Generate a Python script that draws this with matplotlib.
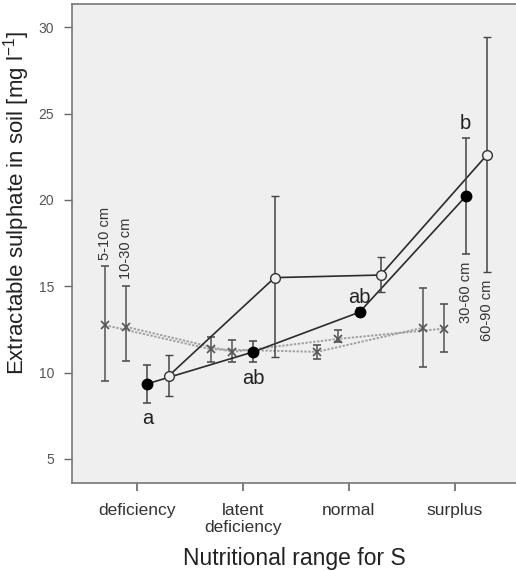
import matplotlib
matplotlib.use("Agg")
import matplotlib.pyplot as plt
import numpy as np

plt.rcParams['font.family'] = ['Liberation Sans', 'DejaVu Sans']
plt.rcParams['mathtext.default'] = 'regular'

categorias = ['deficiency', 'latent\ndeficiency', 'normal', 'surplus']

# valores medios y extremos de las barras de error por profundidad
prof_5_10 = [12.75, 11.35, 11.2, 12.6]
prof_5_10_sup = [16.15, 12.05, 11.6, 14.9]
prof_5_10_inf = [9.5, 10.6, 10.8, 10.35]

prof_10_30 = [12.65, 11.2, 11.95, 12.55]
prof_10_30_sup = [15.0, 11.9, 12.45, 14.0]
prof_10_30_inf = [10.65, 10.6, 11.75, 11.2]

prof_30_60 = [9.35, 11.2, 13.5, 20.2]
prof_30_60_sup = [10.45, 11.85, 13.75, 23.6]
prof_30_60_inf = [8.25, 10.6, 13.25, 16.85]

prof_60_90 = [9.8, 15.5, 15.65, 22.6]
prof_60_90_sup = [11.0, 20.2, 16.7, 29.45]
prof_60_90_inf = [8.65, 10.9, 14.65, 15.8]

letras = ['a', 'ab', 'ab', 'b']
pos_letras = [7.35, 9.65, 14.35, 24.45]


def main():
    fig = plt.figure(figsize=(5.16, 5.71), dpi=100)
    ax = fig.add_axes([0.1395, 0.154, 0.8605, 0.839])
    ax.set_facecolor('#efefef')

    x = np.arange(len(categorias))
    gris = '#a0a0a0'
    oscuro = '#2b2b2b'

    series = [
        (prof_5_10, prof_5_10_sup, prof_5_10_inf, -0.3),
        (prof_10_30, prof_10_30_sup, prof_10_30_inf, -0.1),
    ]
    for media, sup, inf, desp in series:
        media = np.array(media)
        err = [media - np.array(inf), np.array(sup) - media]
        ax.plot(x + desp, media, linestyle=(0, (1.2, 0.8)), color=gris, lw=1.4, zorder=2)
        ax.errorbar(x + desp, media, yerr=err, fmt='x', color='#555555', ecolor='#555555',
                    ms=6, mew=1.2, elinewidth=1.1, capsize=3, capthick=1.1, zorder=3)

    # 30-60 cm, circulos llenos
    media = np.array(prof_30_60)
    err = [media - np.array(prof_30_60_inf), np.array(prof_30_60_sup) - media]
    ax.plot(x + 0.1, media, '-', color=oscuro, lw=1.2, zorder=4)
    ax.errorbar(x + 0.1, media, yerr=err, fmt='o', color='black', ecolor='#444444',
                ms=7.5, elinewidth=1.1, capsize=3, capthick=1.1, zorder=5)

    # 60-90 cm, circulos vacios
    media = np.array(prof_60_90)
    err = [media - np.array(prof_60_90_inf), np.array(prof_60_90_sup) - media]
    ax.plot(x + 0.3, media, '-', color=oscuro, lw=1.2, zorder=4)
    ax.errorbar(x + 0.3, media, yerr=err, fmt='o', mfc='#efefef', mec='#333333', mew=1.0,
                ecolor='#444444', ms=7, elinewidth=1.1, capsize=3, capthick=1.1, zorder=5)

    # letras de significancia
    for i in range(len(letras)):
        ax.text(x[i] + 0.1, pos_letras[i], letras[i], ha='center', va='center',
                fontsize=14.5, color='#222222')

    # etiquetas de profundidad
    ax.text(-0.3, 16.55, '5-10 cm', rotation=90, ha='center', va='bottom', fontsize=10.5, color='#333333')
    ax.text(-0.1, 15.4, '10-30 cm', rotation=90, ha='center', va='bottom', fontsize=10.5, color='#333333')
    ax.text(3.1, 16.4, '30-60 cm', rotation=90, ha='center', va='top', fontsize=10.5, color='#333333')
    ax.text(3.3, 15.4, '60-90 cm', rotation=90, ha='center', va='top', fontsize=10.5, color='#333333')

    ax.set_xlim(-0.61, 3.575)
    ax.set_ylim(3.6, 31.35)
    ax.set_xticks(x)
    ax.set_xticklabels(categorias, fontsize=12.5, color='#333333', linespacing=1.2)
    ax.set_yticks([5, 10, 15, 20, 25, 30])
    ax.tick_params(axis='y', labelsize=10, labelcolor='#555555', color='#666666', length=6, width=1, pad=7)
    ax.tick_params(axis='x', color='#666666', length=6, width=1.2, pad=8)

    for lado in ['left', 'bottom', 'top']:
        ax.spines[lado].set_color('#777777')
        ax.spines[lado].set_linewidth(1.2)
    ax.spines['right'].set_visible(False)

    ax.set_xlabel('Nutritional range for S', fontsize=16.5, color='#222222', labelpad=9)
    ax.set_ylabel('Extractable sulphate in soil [mg l$^{-1}$]', fontsize=16, color='#222222')
    ax.yaxis.set_label_coords(-0.09, 0.585)

    fig.savefig('out.png', dpi=100)


if __name__ == "__main__":
    main()
